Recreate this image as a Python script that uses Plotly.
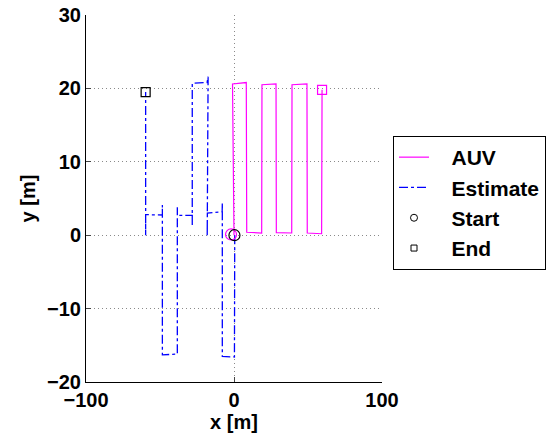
import plotly.graph_objects as go

# AUV path (x, y) in metres
auv_x = [0.0, -1.0, 8.3, 8.6, 18.7, 18.9, 28.4, 28.6, 39.0, 39.2, 49.3, 49.5, 59.2, 59.5]
auv_y = [0.0, 20.6, 20.8, 0.4, 0.3, 20.5, 20.6, 0.35, 0.3, 20.5, 20.6, 0.3, 0.2, 19.8]

# Estimated path
est_x = [0.5, 0.3, -7.9, -7.9, -8.0, -18.0, -18.1, -17.9, -17.5, -18.2, -28.2, -28.2, -28.2,
         -38.3, -38.3, -38.3, -48.4, -48.4, -48.4, -59.7, -59.7, -59.7]
est_y = [0.0, -16.6, -16.5, 4.4, 3.2, 3.0, -0.2, 20.9, 21.6, 20.8, 20.7, 1.3, 2.7,
         2.7, 3.8, -16.2, -16.3, 4.1, 2.75, 2.8, 0.0, 19.5]

start_auv = (-2.0, 0.1)
start_est = (0.3, 0.0)
end_auv = (59.5, 19.8)
end_est = (-59.7, 19.5)

x_ticks = [-100, 0, 100]
y_ticks = [-20, -10, 0, 10, 20, 30]

FAM = "Liberation Sans, Arial, sans-serif"
FONT = dict(family=FAM, size=20, color="black", weight="bold")
LFONT = dict(family=FAM, size=21, color="black", weight="bold")
PAD = "\u00a0\u00a0\u00a0"

fig = go.Figure()
fig.add_trace(go.Scatter(x=auv_x, y=auv_y, mode="lines", name=PAD + "AUV",
                         line=dict(color="#ff00ff", width=1.2)))
fig.add_trace(go.Scatter(x=est_x, y=est_y, mode="lines", name=PAD + "Estimate",
                         line=dict(color="#0000ff", width=1.3, dash="dashdot")))
# markers on the plot (no legend)
fig.add_trace(go.Scatter(x=[start_auv[0]], y=[start_auv[1]], mode="markers", showlegend=False,
                         marker=dict(symbol="circle-open", size=11, color="#ff00ff", line=dict(width=1.2))))
fig.add_trace(go.Scatter(x=[end_auv[0]], y=[end_auv[1]], mode="markers", showlegend=False,
                         marker=dict(symbol="square-open", size=9, color="#ff00ff", line=dict(width=1.2))))
fig.add_trace(go.Scatter(x=[start_est[0]], y=[start_est[1]], mode="markers", showlegend=False,
                         marker=dict(symbol="circle-open", size=11, color="black", line=dict(width=1.2))))
fig.add_trace(go.Scatter(x=[end_est[0]], y=[end_est[1]], mode="markers", showlegend=False,
                         marker=dict(symbol="square-open", size=9, color="black", line=dict(width=1.2))))
# legend-only entries with small markers
fig.add_trace(go.Scatter(x=[None], y=[None], mode="markers", name=PAD + "Start",
                         marker=dict(symbol="circle-open", size=7, color="black", line=dict(width=1))))
fig.add_trace(go.Scatter(x=[None], y=[None], mode="markers", name=PAD + "End",
                         marker=dict(symbol="square-open", size=6, color="black", line=dict(width=1))))

fig.update_layout(
    width=553, height=442,
    margin=dict(l=86, r=171, t=15, b=60, autoexpand=False),
    paper_bgcolor="white", plot_bgcolor="white",
    font=FONT,
    legend=dict(xref="container", yref="container", x=393 / 553, y=1 - 136 / 442,
                xanchor="left", yanchor="top",
                bordercolor="black", borderwidth=1, bgcolor="white",
                font=LFONT, tracegroupgap=0, itemwidth=30),
)
GRID = dict(showgrid=True, gridcolor="#8a8a8a", griddash="1px,3px", gridwidth=1,
            showline=True, linecolor="black", linewidth=1, zeroline=False,
            ticks="inside", ticklen=5, tickcolor="#444444", automargin=False,
            tickfont=FONT)
fig.update_xaxes(range=[-100, 100], tickvals=x_ticks, ticktext=[("−" if v < 0 else "") + str(abs(v)) for v in x_ticks],
                 title=dict(text="x [m]", standoff=2, font=FONT), **GRID)
fig.update_yaxes(range=[-20, 30], tickvals=y_ticks, ticktext=[("−" if v < 0 else "") + str(abs(v)) for v in y_ticks],
                 title=dict(text="y [m]", standoff=6, font=FONT), **GRID)

fig.write_html("out.html")
